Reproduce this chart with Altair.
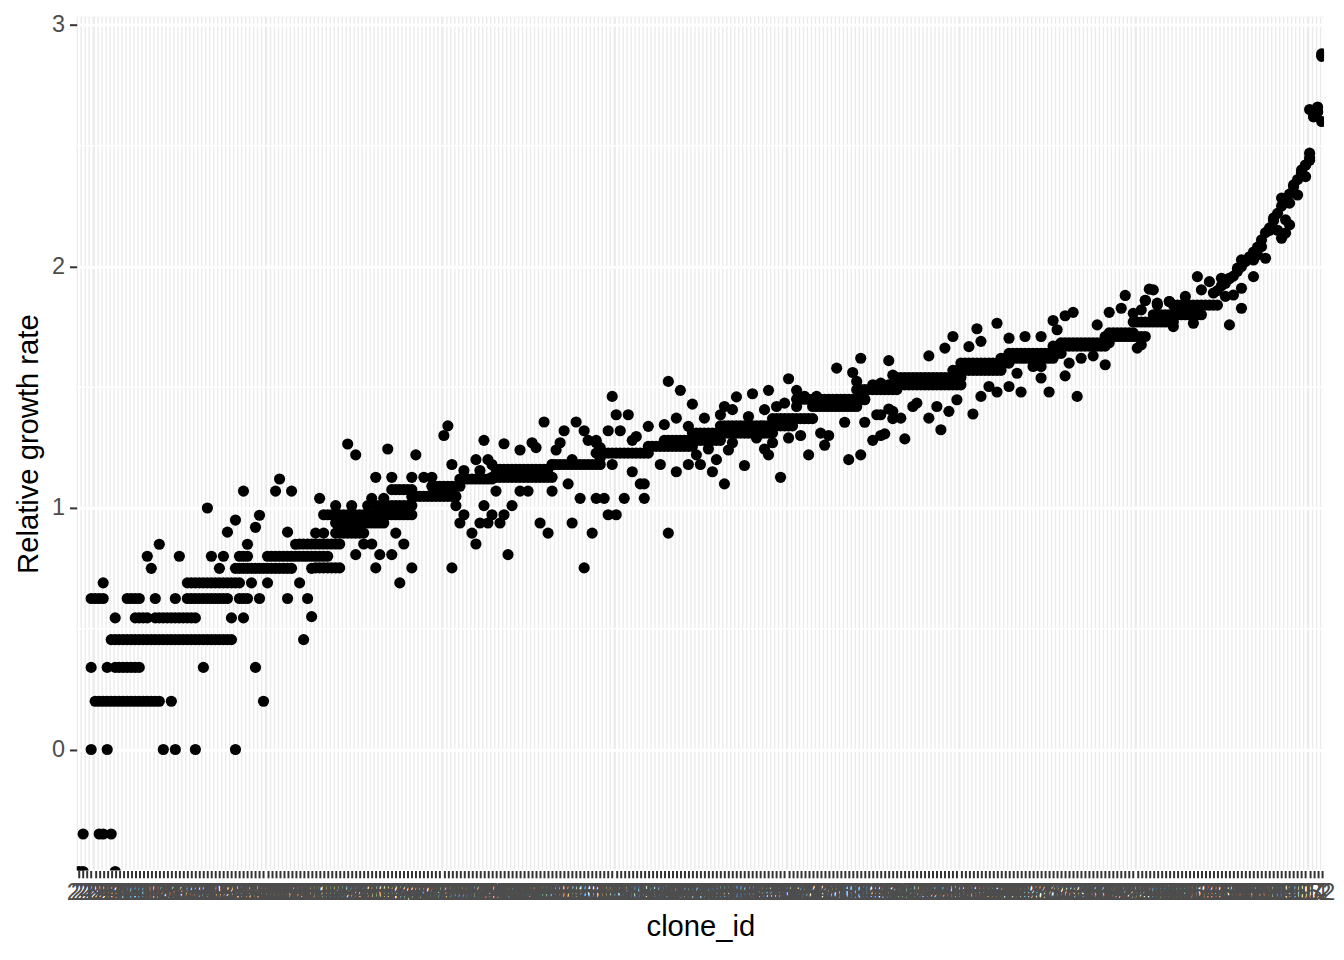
import altair as alt
import pandas as pd

# x categories (clone ids, in plotted order)
clone_ids = [
    "24", "27", "20", "29", "23", "21", "26", "28", "22", "25",
    "413", "418", "410", "416", "411", "419", "414", "417", "412", "415",
    "176", "171", "179", "173", "170", "178", "175", "172", "177", "174",
    "92", "98", "95", "90", "97", "93", "99", "91", "96", "94",
    "281", "287", "284", "289", "280", "286", "283", "288", "282", "285",
    "357", "352", "359", "354", "350", "356", "351", "358", "353", "355",
    "125", "120", "128", "123", "129", "121", "127", "124", "126", "122",
    "63", "69", "61", "66", "60", "68", "64", "62", "67", "65",
    "478", "472", "475", "470", "479", "473", "476", "471", "474", "477",
    "230", "236", "233", "239", "231", "235", "238", "232", "237", "234",
    "149", "144", "141", "147", "140", "146", "143", "148", "142", "145",
    "394", "391", "397", "390", "398", "395", "392", "399", "393", "396",
    "57", "51", "54", "59", "52", "56", "50", "58", "53", "55",
    "312", "318", "315", "310", "317", "313", "319", "311", "316", "314",
    "196", "193", "190", "198", "194", "191", "197", "195", "199", "192",
    "441", "447", "443", "449", "440", "445", "448", "442", "446", "444",
    "85", "80", "88", "83", "89", "81", "86", "84", "82", "87",
    "263", "268", "261", "266", "260", "264", "269", "262", "267", "265",
    "379", "374", "370", "377", "372", "378", "375", "371", "376", "373",
    "117", "112", "119", "114", "110", "116", "113", "118", "111", "115",
    "46", "40", "43", "48", "41", "49", "45", "42", "47", "44",
    "295", "291", "298", "293", "290", "297", "294", "299", "292", "296",
    "168", "163", "160", "165", "169", "161", "167", "162", "164", "166",
    "424", "429", "421", "426", "420", "427", "423", "428", "422", "425",
    "71", "76", "73", "79", "70", "75", "78", "72", "77", "74",
    "336", "331", "338", "333", "330", "339", "334", "337", "332", "335",
    "212", "217", "210", "215", "219", "213", "216", "211", "218", "214",
    "459", "453", "456", "450", "458", "451", "455", "452", "457", "454",
    "134", "139", "131", "136", "130", "137", "133", "138", "132", "135",
    "387", "382", "385", "380", "389", "383", "386", "381", "388", "384",
    "18", "13", "10", "16", "19", "11", "15", "17", "14", "12",
    "32",
]
assert len(set(clone_ids)) == len(clone_ids)

# horizontal streaks: one point per clone from run_start to run_end at run_value
run_value = [0.20, 0.34, 0.455, 0.545, 0.545, 0.625, 0.625, 0.625, 0.625, 0.69,
             0.75, 0.80, 0.851, 0.752, 0.896, 0.938, 0.972, 1.01, 1.076, 1.048,
             1.09, 1.12, 1.127, 1.16, 1.18, 1.227, 1.255, 1.28, 1.31, 1.34,
             1.37, 1.42, 1.45, 1.49, 1.51, 1.54, 1.57, 1.60, 1.62, 1.64,
             1.67, 1.684, 1.71, 1.725, 1.77, 1.80, 1.84]
run_start = [4, 9, 8, 14, 19, 3, 12, 27, 40, 27,
             39, 47, 55, 59, 64, 64, 61, 74, 78, 83,
             88, 95, 103, 104, 118, 129, 142, 146, 153, 160,
             173, 183, 179, 194, 205, 204, 218, 220, 230, 232,
             243, 245, 256, 257, 263, 268, 273]
run_end = [20, 15, 38, 17, 29, 6, 15, 37, 42, 40,
           53, 62, 65, 65, 71, 76, 83, 83, 83, 94,
           95, 103, 118, 117, 130, 142, 153, 160, 173, 178,
           183, 194, 196, 204, 220, 220, 230, 232, 243, 245,
           256, 257, 266, 263, 273, 280, 284]
assert len(run_value) == len(run_start) == len(run_end)

# individual points: clone position and growth rate
point_idx = [
    0, 1, 9, 1, 5, 6, 8, 3, 7, 21, 24, 29, 39, 23, 46, 3, 7, 31, 44, 56,
    9, 38, 41, 58, 19, 24, 45, 52, 57, 6, 43, 47, 55, 18, 35, 58,
    17, 25, 33, 36, 40, 41, 42, 20, 42, 54, 32, 37, 41, 44, 45, 50, 49, 53, 52, 39,
    67, 69, 77, 84, 92, 91, 101, 106, 116, 121, 124, 126,
    93, 99, 102, 103, 100, 96, 74, 78, 83, 86, 88, 60, 73, 76, 64, 68, 72,
    59, 61, 79, 71, 73, 81, 69, 75, 78, 107, 74, 83, 93, 126, 80,
    94, 96, 95, 98, 99, 101, 103, 106, 100, 102, 105, 108, 104, 110, 112, 118,
    125, 129, 115, 123, 117, 128, 122, 118, 123,
    110, 113, 114, 119, 120, 127, 129, 130,
    133, 147, 150, 153, 164, 168, 172, 177, 179, 189, 193, 194, 195, 202, 203,
    134, 137, 132, 135, 129, 138, 139,
    142, 146, 149, 152, 156, 160, 161, 163,
    167, 171, 174, 176, 179, 181, 184, 187, 190, 193, 196, 198, 200, 202, 203,
    130, 133, 138, 140, 141, 131, 136, 141, 132, 134, 147, 145, 149, 152, 154,
    155, 157, 158, 159, 161, 166, 162, 163, 169, 171, 172, 173, 175, 177, 180,
    182, 185, 187, 186, 191, 192, 195, 196, 198, 200, 199, 202, 203,
    212, 218, 216, 224, 225, 229, 222, 232, 236, 240, 243, 244, 246, 248, 254,
    257, 260, 261, 263, 265, 267, 266, 269, 272,
    199, 200, 201, 205, 206, 212, 215, 217, 219, 223, 225, 214, 209, 208, 203,
    227, 229, 232, 235, 242, 249, 240, 246, 247, 250, 253, 256, 234, 240, 238,
    264, 265,
    310, 307, 308, 309, 310, 309,
    307, 307, 306, 305, 305, 306, 303, 304, 302, 300,
    298, 301, 302, 301, 299, 297, 300,
    295, 294, 293, 296, 290, 289, 293, 287, 285, 282, 279,
    280, 283, 286, 288, 290, 290, 287,
    268, 276, 272, 269, 266, 278, 273,
    284, 285, 286, 287, 288, 289, 290, 291, 292, 293, 294, 295, 296, 297,
    298, 299, 300, 301, 302, 303, 304, 305, 306, 307, 308, 309, 310,
]
point_rate = [
    -0.505, -0.505, -0.505, -0.35, -0.35, -0.35, -0.35, 0.0, 0.0, 0.0, 0.0, 0.0, 0.0, 0.2, 0.2, 0.34, 0.34, 0.34, 0.34, 0.455,
    0.545, 0.545, 0.545, 0.55, 0.625, 0.625, 0.625, 0.625, 0.625, 0.69, 0.69, 0.69, 0.69, 0.75, 0.75, 0.75,
    0.8, 0.8, 0.8, 0.8, 0.8, 0.8, 0.8, 0.85, 0.85, 0.85, 1.0, 0.9, 1.07, 0.92, 0.97, 1.12, 1.07, 1.07, 0.9, 0.95,
    1.265, 1.22, 1.244, 1.22, 1.34, 1.30, 1.28, 1.266, 1.356, 1.32, 1.356, 1.32,
    1.18, 1.20, 1.20, 1.18, 1.155, 1.155, 1.127, 1.127, 1.127, 1.127, 1.127, 1.04, 1.04, 1.04, 1.01, 1.01, 1.01,
    0.896, 0.896, 0.896, 0.851, 0.851, 0.851, 0.807, 0.807, 0.807, 0.807, 0.752, 0.752, 0.752, 0.752, 0.69,
    1.01, 0.972, 0.938, 0.896, 0.851, 1.01, 0.972, 0.972, 0.938, 0.938, 0.938, 1.01, 1.07, 1.07, 1.07, 1.07,
    1.04, 1.04, 0.938, 0.938, 0.896, 0.896, 1.10, 1.18, 1.20,
    1.24, 1.27, 1.25, 1.24, 1.27, 1.28, 1.27, 1.25,
    1.462, 1.524, 1.487, 1.43, 1.46, 1.473, 1.487, 1.535, 1.487, 1.579, 1.561, 1.524, 1.62, 1.61, 1.55,
    1.386, 1.386, 1.32, 1.32, 1.28, 1.28, 1.296,
    1.338, 1.345, 1.372, 1.338, 1.372, 1.386, 1.42, 1.407,
    1.379, 1.407, 1.42, 1.434, 1.42, 1.462, 1.462, 1.448, 1.448, 1.441, 1.448, 1.51, 1.517, 1.51, 1.503,
    1.207, 1.18, 1.15, 1.10, 1.10, 1.04, 1.04, 1.04, 0.972, 0.972, 0.896, 1.18, 1.15, 1.18, 1.22,
    1.18, 1.244, 1.15, 1.20, 1.10, 1.176, 1.24, 1.27, 1.29, 1.244, 1.22, 1.27, 1.127, 1.29, 1.30,
    1.22, 1.31, 1.30, 1.26, 1.355, 1.20, 1.22, 1.355, 1.28, 1.30, 1.386, 1.41, 1.37,
    1.63, 1.71, 1.662, 1.742, 1.69, 1.765, 1.668, 1.703, 1.71, 1.71, 1.776, 1.738, 1.796, 1.81, 1.758,
    1.81, 1.827, 1.88, 1.806, 1.82, 1.906, 1.859, 1.84, 1.855,
    1.503, 1.386, 1.307, 1.372, 1.286, 1.372, 1.324, 1.40, 1.448, 1.389, 1.462, 1.42, 1.434, 1.42, 1.40,
    1.503, 1.48, 1.503, 1.48, 1.48, 1.462, 1.538, 1.547, 1.60, 1.62, 1.63, 1.593, 1.558, 1.586, 1.586,
    1.662, 1.676,
    2.88, 2.65, 2.62, 2.64, 2.60, 2.66,
    2.469, 2.44, 2.42, 2.40, 2.386, 2.372, 2.338, 2.296, 2.262, 2.283,
    2.20, 2.193, 2.172, 2.138, 2.15, 2.15, 2.117,
    2.082, 2.048, 2.027, 2.034, 2.027, 1.993, 1.958, 1.951, 1.951, 1.937, 1.958,
    1.903, 1.89, 1.876, 1.882, 1.91, 1.827, 1.758,
    1.903, 1.876, 1.855, 1.848, 1.86, 1.765, 1.751,
    1.90, 1.92, 1.93, 1.95, 1.96, 1.98, 2.00, 2.02, 2.04, 2.06, 2.08, 2.11, 2.14, 2.16,
    2.19, 2.22, 2.25, 2.28, 2.30, 2.33, 2.36, 2.39, 2.42, 2.45, 2.62, 2.64, 2.87,
]
assert len(point_idx) == len(point_rate)

y_ticks = [0, 1, 2, 3]
y_minor = [-0.5, 0.5, 1.5, 2.5]
y_domain = [-0.501, 3.034]

rows = []
for v, s, e in zip(run_value, run_start, run_end):
    for i in range(s, e + 1):
        rows.append({"clone_id": clone_ids[i], "rate": v})
for i, v in zip(point_idx, point_rate):
    rows.append({"clone_id": clone_ids[i], "rate": v})
df = pd.DataFrame(rows)

yscale = alt.Scale(domain=y_domain, nice=False, zero=False)
yaxis = alt.Axis(
    title="Relative growth rate", values=y_ticks, format="d",
    grid=True, gridColor="white", gridWidth=2.8,
    labelFontSize=23.5, labelColor="#4D4D4D", labelPadding=5,
    tickColor="#333333", tickSize=7.3, tickWidth=2, domain=False,
    titleFontSize=29.3, titleColor="black", titleFontWeight="normal",
    titlePadding=8,
)

minor = alt.Chart(pd.DataFrame({"rate": y_minor})).mark_rule(
    color="white", strokeWidth=1.4
).encode(y=alt.Y("rate:Q", scale=yscale, axis=yaxis))

points = alt.Chart(df).mark_circle(
    size=125, color="black", opacity=1, clip=True
).encode(
    x=alt.X(
        "clone_id:N",
        sort=None,
        scale=alt.Scale(type="point", domain=clone_ids, padding=0.6),
        axis=alt.Axis(
            title="clone_id", grid=True, gridColor="white", gridWidth=2.6,
            labelAngle=0, labelFontSize=23.5, labelColor="#4D4D4D",
            labelOverlap=False, labelPadding=3,
            tickColor="#333333", tickSize=7.3, tickWidth=2, domain=False,
            titleFontSize=29.3, titleColor="black", titleFontWeight="normal",
            titlePadding=8,
        ),
    ),
    y=alt.Y("rate:Q", scale=yscale, axis=yaxis),
)

chart = alt.layer(minor, points).properties(
    width=1252, height=857,
    autosize=alt.AutoSizeParams(type="none"),
    padding={"left": 69, "top": 7, "right": 12, "bottom": 70},
).configure(font="Liberation Sans").configure_view(fill="#EBEBEB", strokeWidth=0)

chart.save("out.html", embed_options={"renderer": "svg", "actions": False})
